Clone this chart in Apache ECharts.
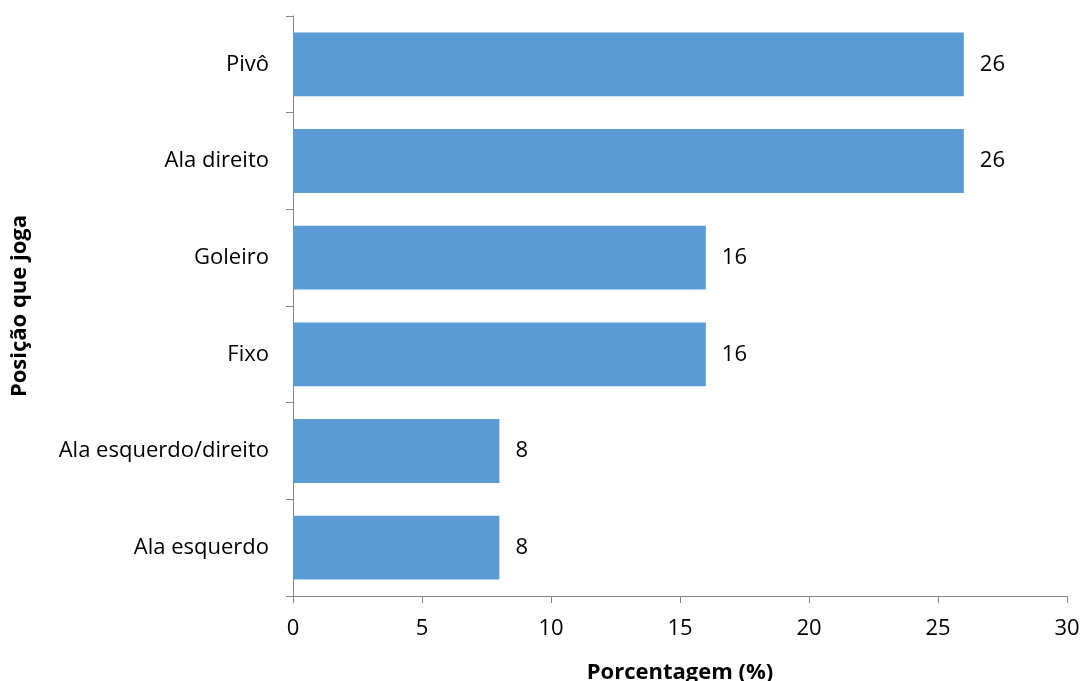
<!DOCTYPE html>
<html><head><meta charset="utf-8">
<script src="https://cdn.jsdelivr.net/npm/echarts@6/dist/echarts.min.js"></script>
<style>html,body{margin:0;padding:0;background:#fff}#c{width:1085px;height:681px}</style>
</head><body><div id="c"></div>
<script>
const categories = ['Ala esquerdo', 'Ala esquerdo/direito', 'Fixo', 'Goleiro', 'Ala direito', 'Pivô'];
const values = [8, 8, 16, 16, 26, 26];
const xTicks = [0, 5, 10, 15, 20, 25, 30];
const xName = 'Porcentagem (%)';
const yName = 'Posição que joga';

const font = '"Open Sans", Lato, sans-serif';
const axisColor = '#868686';
const chart = echarts.init(document.getElementById('c'));
chart.setOption({
  animation: false,
  grid: {left: 293, right: 18, top: 16, bottom: 85, containLabel: false, outerBoundsMode: 'none'},
  xAxis: {
    type: 'value', min: xTicks[0], max: xTicks[xTicks.length - 1], interval: 5,
    name: xName, nameLocation: 'middle', nameGap: 66,
    nameTextStyle: {fontFamily: font, fontSize: 22, fontWeight: 'bold', color: '#000'},
    axisLine: {show: true, lineStyle: {color: axisColor, width: 1}},
    axisTick: {show: true, length: 7, lineStyle: {color: axisColor}},
    axisLabel: {fontFamily: font, fontSize: 22, color: '#000', margin: 22},
    splitLine: {show: false}
  },
  yAxis: {
    type: 'category', data: categories,
    name: yName, nameLocation: 'middle', nameGap: 262, nameRotate: 90,
    nameTextStyle: {fontFamily: font, fontSize: 22, fontWeight: 'bold', color: '#000'},
    axisLine: {show: true, lineStyle: {color: axisColor, width: 1}},
    axisTick: {show: true, length: 7, lineStyle: {color: axisColor}},
    axisLabel: {fontFamily: font, fontSize: 22, color: '#000', margin: 24}
  },
  series: [{
    type: 'bar', data: values, barCategoryGap: '34%',
    itemStyle: {color: '#5B9BD5'},
    label: {show: true, position: 'right', distance: 16, fontFamily: font, fontSize: 22, color: '#000'}
  }]
});
</script></body></html>
